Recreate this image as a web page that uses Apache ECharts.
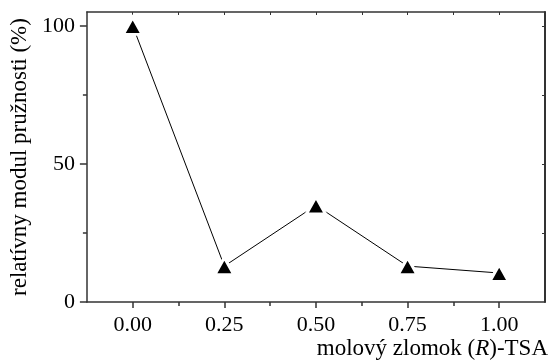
<!DOCTYPE html>
<html>
<head>
<meta charset="utf-8">
<script src="https://cdn.jsdelivr.net/npm/echarts@6/dist/echarts.min.js"></script>
<style>
  html, body { margin: 0; padding: 0; background: #fff; }
  #chart { width: 551px; height: 360px; }
</style>
</head>
<body>
<div id="chart"></div>
<script>
// molar fraction of (R)-TSA vs relative elastic modulus
const fractions = [0.00, 0.25, 0.50, 0.75, 1.00];
const modulus = [100, 13, 35, 13, 10.5];

const xMajor = [0, 0.25, 0.5, 0.75, 1];
const xMinor = [0.125, 0.375, 0.625, 0.875];
const xTop = [0, 0.125, 0.25, 0.375, 0.5, 0.625, 0.75, 0.875, 1];
const yMajor = [0, 50, 100];
const yMinor = [25, 75];
const yRight = [25, 50, 75, 100];

const font = "'Liberation Serif', 'Times New Roman', serif";
const axisColor = '#333';

const chart = echarts.init(document.getElementById('chart'));

const xBase = { type: 'value', min: -0.125, max: 1.125, splitLine: { show: false } };
const yBase = { type: 'value', min: 0, max: 105, splitLine: { show: false } };

chart.setOption({
    animation: false,
    grid: { left: 86, top: 12, right: 6, bottom: 58 },
    xAxis: [
        {
            ...xBase,
            position: 'bottom',
            axisLine: { onZero: false, lineStyle: { color: axisColor, width: 1.5 } },
            axisTick: { length: 6, customValues: xMajor, lineStyle: { color: axisColor, width: 1.5 } },
            axisLabel: {
                customValues: xMajor,
                formatter: v => v.toFixed(2),
                fontFamily: font, fontSize: 22, color: '#000', margin: 12
            },
            name: '{n|molový zlomok (}{i|R}{n|)-TSA}',
            nameLocation: 'end',
            nameGap: 3,
            nameTextStyle: {
                align: 'right', verticalAlign: 'top', padding: [35, 0, 0, 0],
                rich: {
                    n: { fontFamily: font, fontSize: 23, color: '#000' },
                    i: { fontFamily: font, fontSize: 23, fontStyle: 'italic', color: '#000' }
                }
            }
        },
        {
            ...xBase,
            position: 'bottom',
            axisLine: { show: false, onZero: false },
            axisTick: { length: 4, customValues: xMinor, lineStyle: { color: axisColor, width: 1.5 } },
            axisLabel: { show: false }
        },
        {
            ...xBase,
            position: 'top',
            axisLine: { onZero: false, lineStyle: { color: axisColor, width: 1.5 } },
            axisTick: { inside: true, length: 3, customValues: xTop, lineStyle: { color: axisColor, width: 1 } },
            axisLabel: { show: false }
        }
    ],
    yAxis: [
        {
            ...yBase,
            position: 'left',
            axisLine: { show: true, onZero: false, lineStyle: { color: axisColor, width: 1.5 } },
            axisTick: { show: true, length: 7, customValues: yMajor, lineStyle: { color: axisColor, width: 1.5 } },
            axisLabel: {
                customValues: yMajor,
                fontFamily: font, fontSize: 22, color: '#000', margin: 12
            },
            name: 'relatívny modul pružnosti (%)',
            nameLocation: 'middle',
            nameGap: 52,
            nameTextStyle: { fontFamily: font, fontSize: 23, color: '#000' }
        },
        {
            ...yBase,
            position: 'left',
            axisLine: { show: false, onZero: false },
            axisTick: { show: true, length: 4, customValues: yMinor, lineStyle: { color: axisColor, width: 1.5 } },
            axisLabel: { show: false }
        },
        {
            ...yBase,
            position: 'right',
            axisLine: { show: true, onZero: false, lineStyle: { color: axisColor, width: 2 } },
            axisTick: { show: true, inside: true, length: 3, customValues: yRight, lineStyle: { color: axisColor, width: 1 } },
            axisLabel: { show: false }
        }
    ],
    series: [{
        type: 'line',
        xAxisIndex: 0,
        yAxisIndex: 0,
        data: fractions.map((f, i) => [f, modulus[i]]),
        symbol: 'triangle',
        symbolSize: [19, 17],
        itemStyle: { color: '#000', borderColor: '#fff', borderWidth: 3 },
        lineStyle: { color: '#000', width: 1 }
    }]
});
</script>
</body>
</html>
